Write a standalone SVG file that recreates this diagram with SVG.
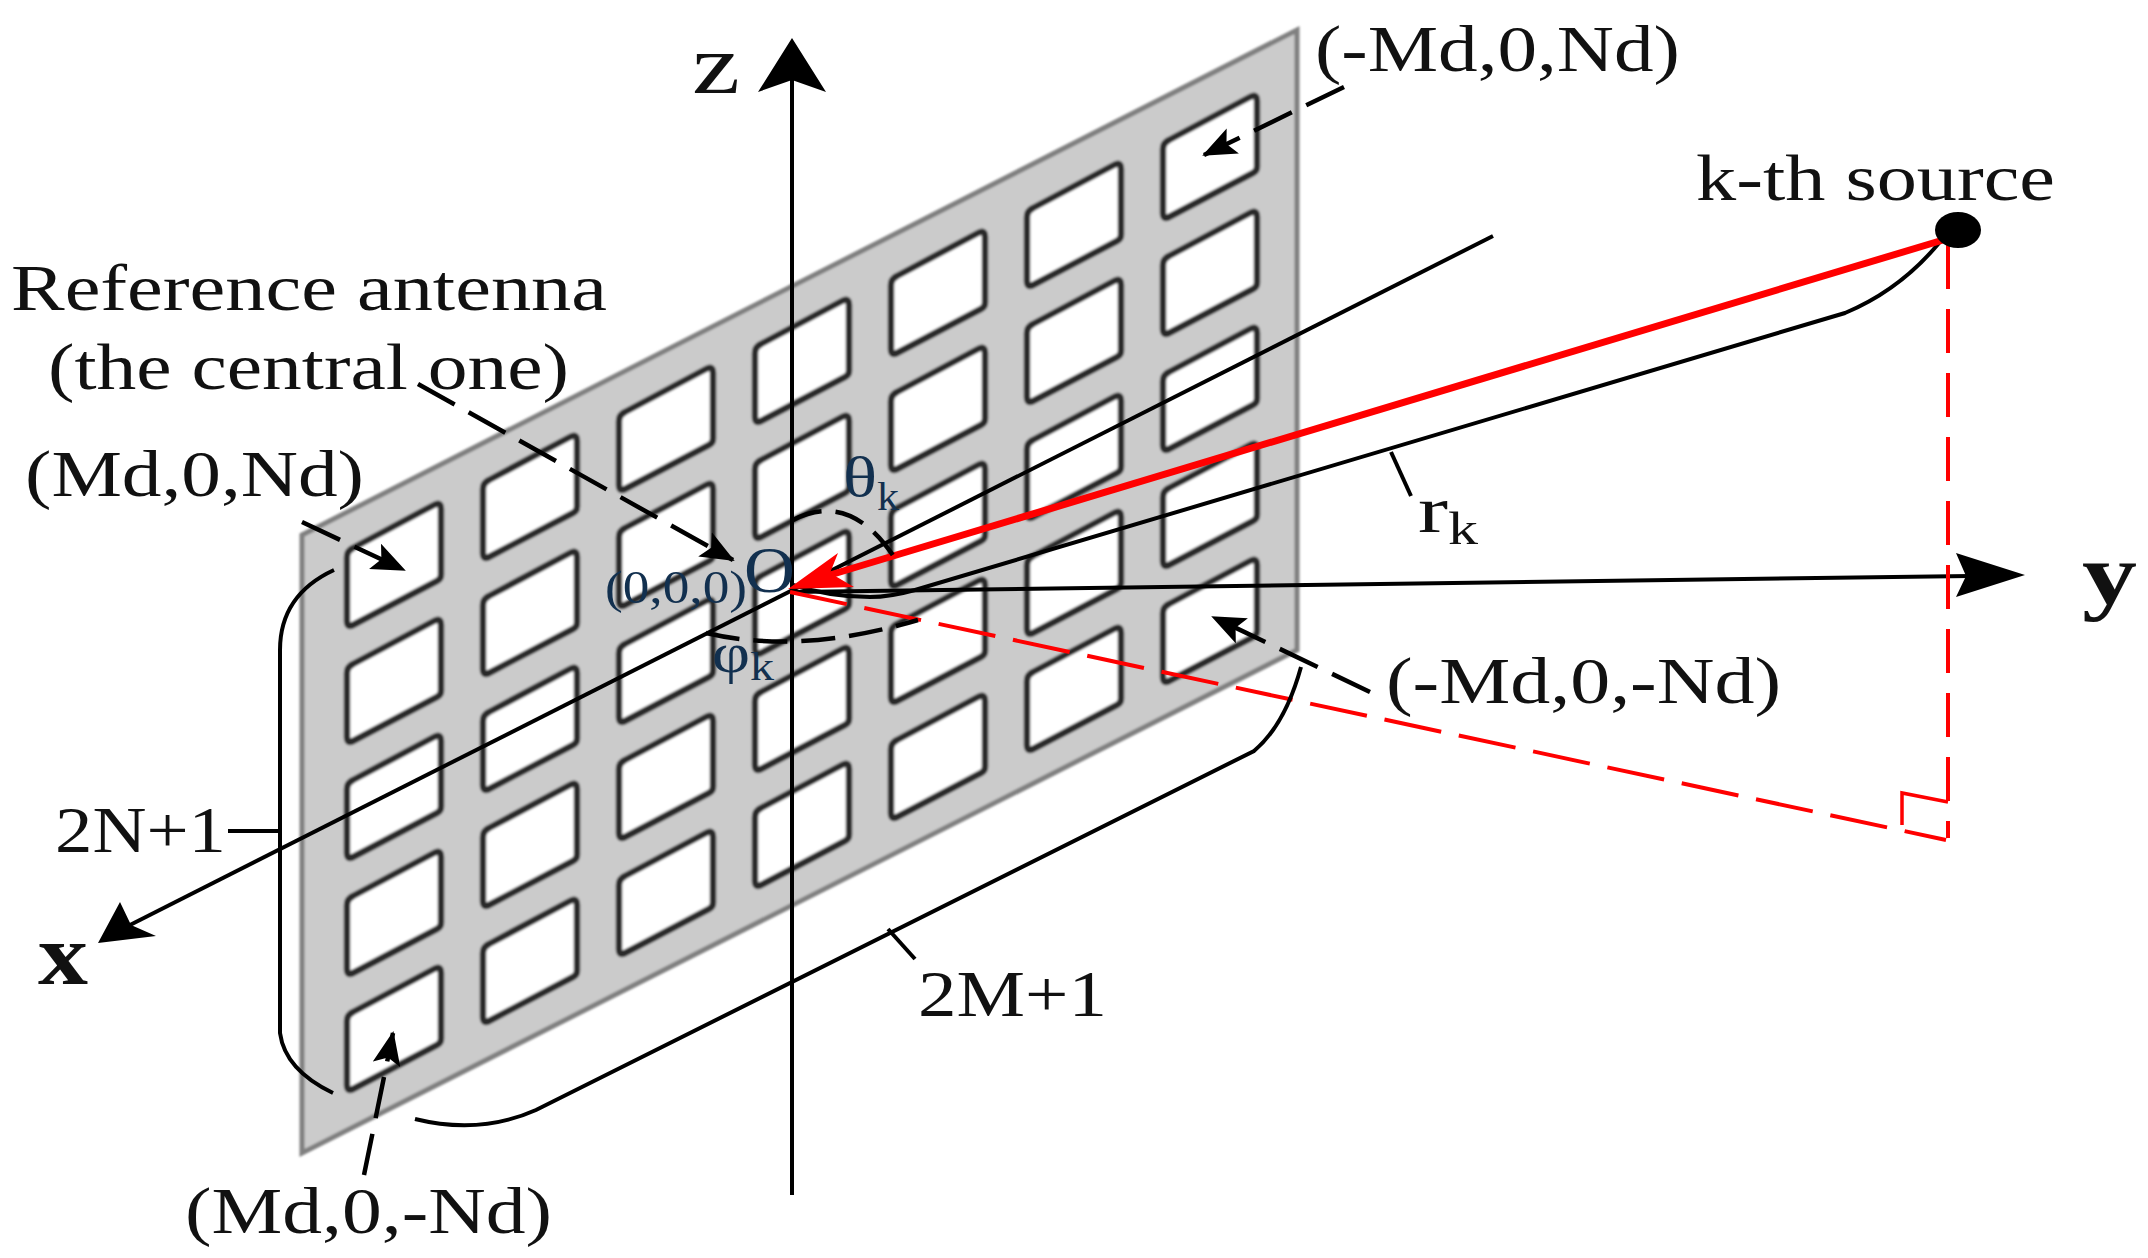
<svg xmlns="http://www.w3.org/2000/svg" xmlns:xlink="http://www.w3.org/1999/xlink" width="2148" height="1258" viewBox="0 0 2148 1258">
<style>
text{font-family:"Liberation Serif","Times New Roman",serif;fill:#111}
.l{font-size:66px}
.axis{font-size:86px;font-weight:bold}
.blue{fill:#12304f}
.k{stroke:#000;stroke-width:4;fill:none}
.d{stroke:#000;stroke-width:4.5;fill:none;stroke-dasharray:42 16}
.r{stroke:#f00;stroke-width:4;fill:none;stroke-dasharray:58 18}
.hole{fill:#fff;stroke:#2a2a2a;stroke-width:6.5;stroke-linejoin:round}
</style>
<defs>
<filter id="soft" x="-5%" y="-5%" width="110%" height="110%"><feGaussianBlur stdDeviation="1.3"/></filter>
<path id="h" class="hole" d="M0 8Q0 2 6-1L87-44Q94-48 94-40V26Q94 30 90 32L6 76Q0 79 0 72Z"/>
<marker id="a" viewBox="0 0 34 28" markerWidth="34" markerHeight="28" markerUnits="userSpaceOnUse" refX="32" refY="14" orient="auto"><path d="M0 0L34 14L0 28L7 14Z" fill="#000"/></marker>
</defs>
<rect width="2148" height="1258" fill="#fff"/>
<g id="antenna-panel" filter="url(#soft)">
<path d="M302 535L1297 30V650L302 1153Z" fill="#cbcbcb" stroke="#808080" stroke-width="5"/>
<use href="#h" x="347" y="549"/><use href="#h" x="347" y="665"/><use href="#h" x="347" y="781"/><use href="#h" x="347" y="897"/><use href="#h" x="347" y="1013"/>
<use href="#h" x="483" y="481"/><use href="#h" x="483" y="597"/><use href="#h" x="483" y="713"/><use href="#h" x="483" y="829"/><use href="#h" x="483" y="945"/>
<use href="#h" x="619" y="413"/><use href="#h" x="619" y="529"/><use href="#h" x="619" y="645"/><use href="#h" x="619" y="761"/><use href="#h" x="619" y="877"/>
<use href="#h" x="755" y="345"/><use href="#h" x="755" y="461"/><use href="#h" x="755" y="577"/><use href="#h" x="755" y="693"/><use href="#h" x="755" y="809"/>
<use href="#h" x="891" y="277"/><use href="#h" x="891" y="393"/><use href="#h" x="891" y="509"/><use href="#h" x="891" y="625"/><use href="#h" x="891" y="741"/>
<use href="#h" x="1027" y="209"/><use href="#h" x="1027" y="325"/><use href="#h" x="1027" y="441"/><use href="#h" x="1027" y="557"/><use href="#h" x="1027" y="673"/>
<use href="#h" x="1163" y="141"/><use href="#h" x="1163" y="257"/><use href="#h" x="1163" y="373"/><use href="#h" x="1163" y="489"/><use href="#h" x="1163" y="605"/>
</g>
<g id="connectors">
<path class="k" d="M792 1195V80"/><path d="M792 38L826 92L792 80L758 92Z" fill="#000"/>
<path class="k" d="M792 592L1970 576"/><path d="M2025 575L1956 597L1966 576L1956 553Z" fill="#000"/>
<path class="k" d="M1493 236L130 925"/><path d="M98 943L120 902L131 925L156 936Z" fill="#000"/>
<path class="k" d="M793 585Q830 597 870 597Q890 597 915 590L1845 313Q1900 290 1939 243"/>
<path class="k" d="M1391 452L1411 496"/>
<path d="M1943 240L830 575" stroke="#f00" stroke-width="7" fill="none"/><path d="M788 589L838 553L830 573L854 587Z" fill="#f00"/>
<path class="r" d="M790 592L1946 840"/>
<path class="r" style="stroke-dasharray:44 20" d="M1948 245V838"/>
<path d="M1902 825V793L1948 802" stroke="#f00" stroke-width="3.5" fill="none"/>
<ellipse cx="1958" cy="230" rx="23" ry="18" fill="#000"/>
<path class="d" d="M418 384L733 560" marker-end="url(#a)"/>
<path class="d" d="M302 522L404 570" marker-end="url(#a)"/>
<path class="d" d="M1344 87L1204 155" marker-end="url(#a)"/>
<path class="d" d="M1370 692L1213 617" marker-end="url(#a)"/>
<path class="d" d="M364 1175L393 1033" marker-end="url(#a)"/>
<path class="k" d="M334 570Q280 595 280 650V1033Q285 1070 333 1093"/>
<path class="k" d="M228 831H279"/>
<path class="k" d="M415 1119Q480 1135 536 1110L1254 751Q1285 725 1301 667"/>
<path class="k" d="M888 929L915 959"/>
<path class="d" style="stroke-dasharray:30 14" d="M793 520Q851 490 896 560"/>
<path class="d" style="stroke-dasharray:34 14" d="M706 633Q800 655 918 620"/>
</g>
<g id="labels">
<text class="l" font-size="84" style="font-size:84px" x="692" y="93" textLength="48" lengthAdjust="spacingAndGlyphs">z</text>
<text class="l" x="1315" y="71" textLength="365" lengthAdjust="spacingAndGlyphs">(-Md,0,Nd)</text>
<text class="l" x="1696" y="200" textLength="359" lengthAdjust="spacingAndGlyphs">k-th source</text>
<text class="l" x="11" y="310" textLength="596" lengthAdjust="spacingAndGlyphs">Reference antenna</text>
<text class="l" x="48" y="389" textLength="521" lengthAdjust="spacingAndGlyphs">(the central one)</text>
<text class="l" x="25" y="496" textLength="339" lengthAdjust="spacingAndGlyphs">(Md,0,Nd)</text>
<text class="l blue" x="744" y="592" textLength="51" lengthAdjust="spacingAndGlyphs">O</text>
<text class="blue" font-size="46" x="605" y="603" textLength="142" lengthAdjust="spacingAndGlyphs">(0,0,0)</text>
<text class="blue" font-size="56" x="843" y="496" textLength="34" lengthAdjust="spacingAndGlyphs">θ</text>
<text class="blue" font-size="40" x="877" y="510" textLength="22" lengthAdjust="spacingAndGlyphs">k</text>
<text class="blue" font-size="56" x="712" y="672" textLength="38" lengthAdjust="spacingAndGlyphs">φ</text>
<text class="blue" font-size="40" x="750" y="680" textLength="24" lengthAdjust="spacingAndGlyphs">k</text>
<text class="l" x="1418" y="532" textLength="30" lengthAdjust="spacingAndGlyphs">r</text>
<text font-size="46" x="1448" y="544" textLength="30" lengthAdjust="spacingAndGlyphs">k</text>
<text class="axis" x="2082" y="603" textLength="55" lengthAdjust="spacingAndGlyphs">y</text>
<text class="l" x="1386" y="703" textLength="395" lengthAdjust="spacingAndGlyphs">(-Md,0,-Nd)</text>
<text class="l" x="55" y="852" textLength="171" lengthAdjust="spacingAndGlyphs">2N+1</text>
<text class="axis" x="38" y="984" textLength="50" lengthAdjust="spacingAndGlyphs">x</text>
<text class="l" x="918" y="1016" textLength="189" lengthAdjust="spacingAndGlyphs">2M+1</text>
<text class="l" x="185" y="1233" textLength="367" lengthAdjust="spacingAndGlyphs">(Md,0,-Nd)</text>
</g>
</svg>
